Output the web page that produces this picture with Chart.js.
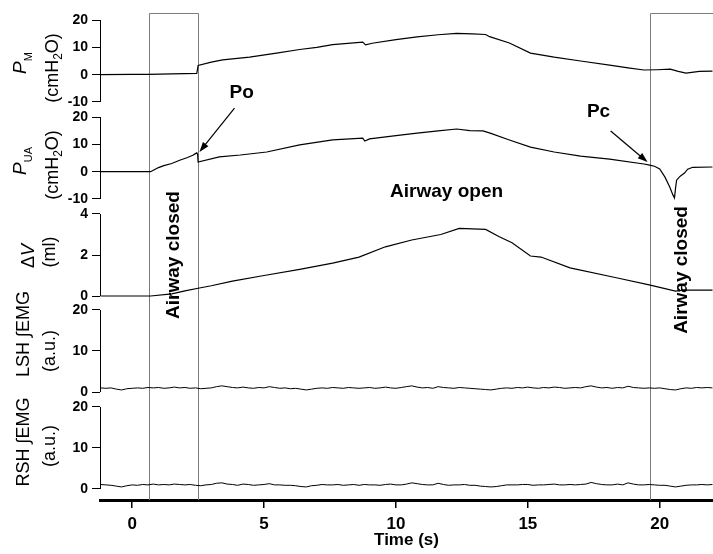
<!DOCTYPE html>
<html>
<head>
<meta charset="utf-8">
<script src="https://cdn.jsdelivr.net/npm/chart.js@4.4.0/dist/chart.umd.min.js"></script>
<style>
  html, body { margin: 0; padding: 0; background: #fff; }
  #wrap { width: 713px; height: 554px; }
</style>
</head>
<body>
<div id="wrap"><canvas id="c" width="713" height="554"></canvas></div>
<script>
// --- data ---
const closedIntervals = [[0.63, 2.49], [19.62, 23]];

const pmTime = [-1.2, 0, 0.6, 1.5, 2.45, 2.5, 3.0, 3.43, 4.45, 5.47, 6.35, 7.0, 7.6, 8.74, 8.85, 9.1,
  10.0, 10.8, 11.6, 12.3, 12.9, 13.4, 13.55, 14.3, 15.1, 16.0, 17.0, 18.1, 18.8, 19.4, 19.9, 20.4,
  20.7, 21.0, 21.5, 22.0];
const pmValues = [0.0, 0.1, 0.1, 0.3, 0.5, 3.4, 4.6, 5.4, 6.4, 7.9, 9.2, 10.0, 11.0, 11.9, 10.9, 11.5,
  12.8, 13.8, 14.6, 15.1, 14.9, 14.7, 13.9, 11.6, 7.9, 6.4, 5.0, 3.5, 2.5, 1.7, 1.8, 2.0,
  1.2, 0.6, 1.2, 1.3];

const puaTime = [-1.2, 0, 0.7, 0.8, 1.0, 1.2, 1.5, 1.8, 2.1, 2.3, 2.4, 2.45, 2.48, 2.5, 3.3, 4.1,
  5.1, 6.35, 7.6, 8.74, 8.82, 9.0, 10.0, 10.8, 11.6, 12.3, 12.8, 13.3, 13.6, 14.3, 15.1, 16.0,
  17.0, 18.1, 19.4, 19.62, 19.8, 20.0, 20.2, 20.38, 20.5, 20.56, 20.6, 20.64, 20.75, 20.8, 20.94, 21.06,
  21.25, 22.0];
const puaValues = [0.0, 0.0, 0.0, 0.5, 1.5, 2.2, 3.0, 4.2, 5.2, 6.0, 6.6, 6.9, 6.4, 3.5, 5.4, 6.1,
  7.2, 9.8, 11.6, 12.3, 11.2, 12.0, 13.2, 14.1, 14.9, 15.6, 15.0, 14.9, 14.0, 11.6, 9.0, 7.2,
  5.7, 4.6, 2.8, 2.4, 2.0, 1.0, -2.0, -5.6, -8.5, -9.6, -6.0, -3.1, -1.9, -1.5, -0.5, 0.9,
  1.6, 1.7];

const dvTime = [-1.2, 0, 0.7, 1.5, 2.0, 2.55, 3.0, 3.8, 5.0, 6.35, 7.6, 8.6, 9.6, 10.6, 11.7, 12.4,
  13.4, 13.9, 14.4, 15.1, 15.5, 16.6, 18.4, 19.6, 20.6, 20.9, 22.0];
const dvValues = [0, 0, 0, 0.1, 0.25, 0.39, 0.5, 0.73, 1.0, 1.3, 1.6, 1.9, 2.4, 2.73, 3.0, 3.3,
  3.25, 2.9, 2.6, 1.95, 1.9, 1.37, 0.88, 0.54, 0.24, 0.29, 0.29];

const emgTime = [
  -1.2, -1.0, -0.8, -0.6, -0.4, -0.2, 0, 0.2, 0.4, 0.6,
  0.8, 1.0, 1.2, 1.4, 1.6, 1.8, 2.0, 2.2, 2.4, 2.6,
  2.8, 3.0, 3.2, 3.4, 3.6, 3.8, 4.0, 4.2, 4.4, 4.6,
  4.8, 5.0, 5.2, 5.4, 5.6, 5.8, 6.0, 6.2, 6.4, 6.6,
  6.8, 7.0, 7.2, 7.4, 7.6, 7.8, 8.0, 8.2, 8.4, 8.6,
  8.8, 9.0, 9.2, 9.4, 9.6, 9.8, 10.0, 10.2, 10.4, 10.6,
  10.8, 11.0, 11.2, 11.4, 11.6, 11.8, 12.0, 12.2, 12.4, 12.6,
  12.8, 13.0, 13.2, 13.4, 13.6, 13.8, 14.0, 14.2, 14.4, 14.6,
  14.8, 15.0, 15.2, 15.4, 15.6, 15.8, 16.0, 16.2, 16.4, 16.6,
  16.8, 17.0, 17.2, 17.4, 17.6, 17.8, 18.0, 18.2, 18.4, 18.6,
  18.8, 19.0, 19.2, 19.4, 19.6, 19.8, 20.0, 20.2, 20.4, 20.6,
  20.8, 21.0, 21.2, 21.4, 21.6, 21.8, 22.0];
const lshValues = [
  1.0, 0.9, 1.0, 0.7, 0.5, 0.8, 0.9, 1.0, 0.9, 1.1,
  1.0, 1.1, 0.9, 1.0, 1.2, 1.0, 1.1, 0.9, 1.0, 0.8,
  0.9, 1.0, 1.3, 1.5, 1.3, 1.1, 1.0, 1.2, 1.0, 0.9,
  1.1, 1.0, 1.3, 1.1, 0.9, 1.0, 0.8, 0.9, 0.7, 0.5,
  0.7, 0.9, 1.0, 0.9, 1.1, 1.0, 0.9, 1.1, 1.0, 0.9,
  1.0, 1.1, 0.9, 1.0, 1.2, 1.0, 0.9, 1.1, 1.3, 1.5,
  1.2, 1.0, 1.1, 0.9, 1.3, 1.1, 1.0, 0.9, 1.1, 1.0,
  0.9, 0.8, 0.7, 0.6, 0.5, 0.7, 0.9, 1.0, 0.9, 1.1,
  1.0, 1.2, 1.0, 0.9, 1.1, 1.0, 1.2, 1.1, 0.9, 1.0,
  1.1, 1.0, 1.3, 1.5, 1.2, 1.0, 1.1, 0.9, 1.1, 1.0,
  1.4, 1.1, 1.0, 0.9, 1.0, 0.9, 1.0, 0.8, 0.6, 0.5,
  0.8, 1.0, 0.9, 1.1, 1.0, 1.1, 1.0];
const rshValues = [
  1.1, 1.0, 0.9, 0.7, 0.5, 0.8, 1.0, 0.9, 1.1, 1.0,
  1.2, 1.0, 1.1, 1.0, 1.2, 1.1, 1.0, 1.1, 0.9, 0.8,
  1.0, 1.1, 1.4, 1.5, 1.2, 1.1, 0.9, 1.2, 1.1, 0.9,
  1.0, 1.1, 1.3, 1.0, 1.0, 0.9, 0.9, 0.8, 0.6, 0.5,
  0.8, 0.9, 1.1, 1.0, 1.0, 1.1, 0.9, 1.0, 1.1, 0.9,
  1.1, 1.0, 1.0, 0.9, 1.1, 1.2, 1.0, 1.0, 1.2, 1.5,
  1.3, 1.1, 1.0, 1.0, 1.4, 1.1, 0.9, 1.0, 1.0, 1.1,
  0.9, 0.9, 0.7, 0.6, 0.5, 0.6, 0.8, 1.0, 1.0, 1.0,
  1.1, 1.1, 0.9, 1.0, 1.0, 1.1, 1.2, 1.0, 1.0, 1.1,
  1.0, 1.1, 1.2, 1.6, 1.3, 1.1, 1.0, 1.0, 1.2, 1.0,
  1.5, 1.2, 1.0, 1.0, 1.1, 1.0, 0.9, 0.9, 0.7, 0.5,
  0.7, 0.9, 1.0, 1.0, 1.1, 1.0, 1.1];

const xTicks = [0, 5, 10, 15, 20];
const pressureTicks = [-10, 0, 10, 20];
const volumeTicks = [0, 2, 4];
const emgTicks = [0, 10, 20];

const FONT = "'Liberation Sans', Arial, Helvetica, sans-serif";

// text positions are given in data units (time, value on a panel axis)
const notes = [
  { text: 'Airway closed', t: 1.56, axis: 'yDV', v: 2.0, rotate: true },
  { text: 'Airway closed', t: 20.83, axis: 'yDV', v: 1.27, rotate: true },
  { text: 'Airway open', t: 11.92, axis: 'yPUA', v: -7.4 },
  { text: 'Po', t: 4.15, axis: 'yPM', v: -6.7 },
  { text: 'Pc', t: 17.68, axis: 'yPUA', v: 21.8 }
];
const arrows = [
  { from: [3.88, 'yPM', -12.2], to: [2.55, 'yPUA', 7.2] },
  { from: [18.14, 'yPUA', 14.9], to: [19.54, 'yPUA', 3.5] }
];

// rotated axis titles: [text, font, baseline shift]
const axisTitles = [
  { axis: 'yPM', lines: [
    { x: 26, dy: 2, parts: [['P', 'italic 19px'], ['M', '11px', 6]] },
    { x: 58, dy: 7, parts: [['(cmH', '18px'], ['2', '12px', 4], ['O)', '18px']] }] },
  { axis: 'yPUA', lines: [
    { x: 26, dy: 3, parts: [['P', 'italic 19px'], ['UA', '11px', 6]] },
    { x: 58, dy: 7, parts: [['(cmH', '18px'], ['2', '12px', 4], ['O)', '18px']] }] },
  { axis: 'yDV', lines: [
    { x: 34, dy: 1, parts: [['\u0394', '18px'], ['V', 'italic 18px']] },
    { x: 55, dy: -3, parts: [['(ml)', '18px']] }] },
  { axis: 'yLSH', lines: [
    { x: 29, dy: -17, parts: [['LSH \u222BEMG', '18px']] },
    { x: 55, dy: 0, parts: [['(a.u.)', '18px']] }] },
  { axis: 'yRSH', lines: [
    { x: 29, dy: -6, parts: [['RSH \u222BEMG', '18px']] },
    { x: 55, dy: -2, parts: [['(a.u.)', '18px']] }] }
];

function pts(ts, vs) {
  return ts.map((t, i) => ({ x: t, y: vs[i] }));
}

function drawVertical(ctx, parts, x, cy) {
  ctx.save();
  ctx.translate(x, cy);
  ctx.rotate(-Math.PI / 2);
  ctx.textBaseline = 'alphabetic';
  ctx.textAlign = 'left';
  let w = 0;
  parts.forEach(p => { ctx.font = p[1] + ' ' + FONT; w += ctx.measureText(p[0]).width; });
  let pos = -w / 2;
  parts.forEach(p => {
    ctx.font = p[1] + ' ' + FONT;
    ctx.fillText(p[0], pos, p[2] || 0);
    pos += ctx.measureText(p[0]).width;
  });
  ctx.restore();
}

const decor = {
  id: 'decor',
  beforeDatasetsDraw(chart) {
    const { ctx, chartArea, scales } = chart;
    ctx.save();
    ctx.strokeStyle = '#7c7c7c';
    ctx.lineWidth = 1;
    closedIntervals.forEach(([a, b]) => {
      const x1 = Math.round(scales.x.getPixelForValue(a)) + 0.5;
      const x2 = Math.round(scales.x.getPixelForValue(b)) + 0.5;
      ctx.beginPath();
      ctx.moveTo(x1, chartArea.bottom);
      ctx.lineTo(x1, chartArea.top + 0.5);
      ctx.lineTo(x2, chartArea.top + 0.5);
      ctx.lineTo(x2, chartArea.bottom);
      ctx.stroke();
    });
    ctx.restore();
  },
  afterDraw(chart) {
    const { ctx, scales } = chart;
    ctx.save();
    ctx.fillStyle = '#000';
    ctx.strokeStyle = '#000';

    // axis line of each panel, only over its tick range
    ['yPM', 'yPUA', 'yDV', 'yLSH', 'yRSH'].forEach(id => {
      const s = scales[id];
      const t = s.ticks;
      const xL = s.right + 0.5;
      ctx.lineWidth = 1;
      ctx.beginPath();
      ctx.moveTo(xL, s.getPixelForValue(t[0].value));
      ctx.lineTo(xL, s.getPixelForValue(t[t.length - 1].value));
      ctx.stroke();
    });

    axisTitles.forEach(a => {
      const s = scales[a.axis];
      const t = s.ticks;
      const mid = (s.getPixelForValue(t[0].value) + s.getPixelForValue(t[t.length - 1].value)) / 2;
      a.lines.forEach(l => drawVertical(ctx, l.parts, l.x, mid + l.dy));
    });

    notes.forEach(n => {
      const x = scales.x.getPixelForValue(n.t);
      const y = scales[n.axis].getPixelForValue(n.v);
      ctx.save();
      ctx.font = 'bold 19px ' + FONT;
      ctx.textAlign = 'center';
      ctx.textBaseline = 'middle';
      ctx.translate(x, y);
      if (n.rotate) ctx.rotate(-Math.PI / 2);
      ctx.fillText(n.text, 0, 0);
      ctx.restore();
    });

    arrows.forEach(a => {
      const x1 = scales.x.getPixelForValue(a.from[0]);
      const y1 = scales[a.from[1]].getPixelForValue(a.from[2]);
      const x2 = scales.x.getPixelForValue(a.to[0]);
      const y2 = scales[a.to[1]].getPixelForValue(a.to[2]);
      const ang = Math.atan2(y2 - y1, x2 - x1);
      const len = 10, half = 3.5;
      ctx.lineWidth = 1.2;
      ctx.beginPath();
      ctx.moveTo(x1, y1);
      ctx.lineTo(x2 - Math.cos(ang) * len * 0.8, y2 - Math.sin(ang) * len * 0.8);
      ctx.stroke();
      ctx.beginPath();
      ctx.moveTo(x2, y2);
      ctx.lineTo(x2 - Math.cos(ang) * len - Math.sin(ang) * half, y2 - Math.sin(ang) * len + Math.cos(ang) * half);
      ctx.lineTo(x2 - Math.cos(ang) * len + Math.sin(ang) * half, y2 - Math.sin(ang) * len - Math.cos(ang) * half);
      ctx.closePath();
      ctx.fill();
    });
    ctx.restore();
  }
};

function yAxis(min, max, tickList, weight, order) {
  return {
    type: 'linear',
    position: 'left',
    stack: 'panels',
    stackWeight: weight,
    weight: order,
    min: min,
    max: max,
    border: { display: false },
    grid: { drawOnChartArea: false, drawTicks: true, tickLength: 8, color: '#000', lineWidth: 1 },
    ticks: { color: '#000', font: { family: FONT, size: 14, weight: 'bold' }, padding: 4, autoSkip: false },
    afterBuildTicks: s => { s.ticks = tickList.map(v => ({ value: v })); },
    afterFit: s => { s.width = 100; }
  };
}

const lineStyle = { borderColor: '#000', borderWidth: 1.2, pointRadius: 0, fill: false, tension: 0 };

new Chart(document.getElementById('c'), {
  type: 'line',
  data: {
    datasets: [
      Object.assign({ label: 'PM', data: pts(pmTime, pmValues), yAxisID: 'yPM' }, lineStyle),
      Object.assign({ label: 'PUA', data: pts(puaTime, puaValues), yAxisID: 'yPUA' }, lineStyle),
      Object.assign({ label: 'dV', data: pts(dvTime, dvValues), yAxisID: 'yDV' }, lineStyle),
      Object.assign({ label: 'LSH', data: pts(emgTime, lshValues), yAxisID: 'yLSH' }, lineStyle, { borderWidth: 1 }),
      Object.assign({ label: 'RSH', data: pts(emgTime, rshValues), yAxisID: 'yRSH' }, lineStyle, { borderWidth: 1 })
    ]
  },
  options: {
    responsive: false,
    animation: false,
    layout: { padding: { top: 13, left: 0, right: 0, bottom: 0 } },
    plugins: { legend: { display: false }, tooltip: { enabled: false } },
    scales: {
      x: {
        type: 'linear',
        position: 'bottom',
        min: -1.22,
        max: 22.02,
        border: { display: true, width: 3, color: '#000' },
        grid: { drawOnChartArea: false, drawTicks: true, tickLength: 8, color: '#000', lineWidth: 1.5 },
        ticks: { color: '#000', font: { family: FONT, size: 17, weight: 'bold' }, padding: 6, maxRotation: 0, autoSkip: false },
        afterBuildTicks: s => { s.ticks = xTicks.map(v => ({ value: v })); },
        afterFit: s => { s.height = 54; },
        title: { display: true, text: 'Time (s)', color: '#000', font: { family: FONT, size: 17, weight: 'bold' }, padding: { top: 0, bottom: 3 } }
      },
      yRSH: yAxis(-2.683, 21.707, emgTicks, 100, 1),
      yLSH: yAxis(-1.951, 21.707, emgTicks, 97, 2),
      yDV: yAxis(-0.341, 4.341, volumeTicks, 96, 3),
      yPUA: yAxis(-12.927, 22.561, pressureTicks, 97, 4),
      yPM: yAxis(-12.927, 22.561, pressureTicks, 97, 5)
    }
  },
  plugins: [decor]
});
</script>
</body>
</html>
